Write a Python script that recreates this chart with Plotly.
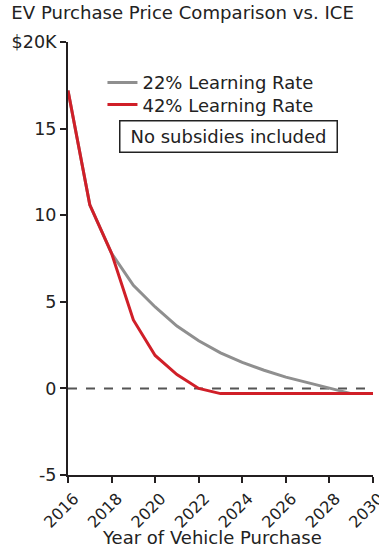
import plotly.graph_objects as go

# Model years of vehicle purchase
years = list(range(2016, 2031))

# EV price premium over ICE, thousands of USD
premium_22 = [17.2, 10.6, 7.8, 5.95, 4.7, 3.6, 2.75, 2.05, 1.5, 1.05, 0.65, 0.33, 0.05, -0.3, -0.3]
premium_42 = [17.2, 10.6, 7.8, 3.95, 1.9, 0.8, 0.0, -0.3, -0.3, -0.3, -0.3, -0.3, -0.3, -0.3, -0.3]

series_names = ["22% Learning Rate", "42% Learning Rate"]
series_colors = ["#8f8f8f", "#d01f28"]

y_tickvals = [-5, 0, 5, 10, 15, 20]
y_ticktext = ["-5", "0", "5", "10", "15", "$20K"]
x_tickvals = list(range(2016, 2031, 2))

FONT = "DejaVu Sans, Verdana, sans-serif"
TEXT = "#222222"
AXIS = "#231f20"

fig = go.Figure()
for i, (name, vals, color) in enumerate(zip(series_names, [premium_22, premium_42], series_colors)):
    fig.add_trace(go.Scatter(
        x=years, y=vals, name=name, mode="lines",
        line=dict(color=color, width=3),
        legend="legend" if i == 0 else "legend2",
        hoverinfo="x+y",
    ))

# break-even reference line
fig.add_shape(type="line", xref="paper", x0=0, x1=1, yref="y", y0=0, y1=0,
              line=dict(color="#555555", width=2, dash="dash"), layer="below")

fig.add_annotation(
    text="No subsidies included", xref="paper", yref="paper",
    x=0.525, y=0.781, xanchor="center", yanchor="middle", showarrow=False,
    font=dict(family=FONT, size=18, color=TEXT),
    bordercolor="#222222", borderwidth=1.5, borderpad=6, width=204, height=18,
    bgcolor="white",
)

# x-axis caption, centred under the labelled years
fig.add_annotation(
    text="Year of Vehicle Purchase", xref="paper", yref="paper",
    x=0.472, y=-0.145, xanchor="center", yanchor="middle", showarrow=False,
    font=dict(family=FONT, size=18, color=TEXT),
)

legend_style = dict(xanchor="left", yanchor="middle", bgcolor="rgba(0,0,0,0)",
                    font=dict(family=FONT, size=18, color=TEXT))

fig.update_layout(
    width=379, height=549,
    margin=dict(l=68, r=6, t=42, b=74, autoexpand=False),
    paper_bgcolor="white", plot_bgcolor="white",
    font=dict(family=FONT, size=17.5, color=TEXT),
    title=dict(text="EV Purchase Price Comparison vs. ICE", x=0.03, xanchor="left",
               y=0.988, yanchor="top", font=dict(family=FONT, size=18.1, color=TEXT)),
    showlegend=True,
    legend=dict(x=0.113, y=0.906, **legend_style),
    legend2=dict(x=0.113, y=0.855, **legend_style),
    xaxis=dict(range=[2016, 2030], tickvals=x_tickvals, tickangle=-45,
               ticklabeloverflow="allow", automargin=False,
               ticklabelshift=6, ticklabelstandoff=0,
               showgrid=False, zeroline=False, showline=True, linecolor=AXIS,
               linewidth=2, ticks="outside", ticklen=6, tickwidth=2, tickcolor=AXIS,
               tickfont=dict(family=FONT, size=16, color=TEXT)),
    yaxis=dict(range=[-5, 20], tickvals=y_tickvals, ticktext=y_ticktext,
               automargin=False,
               showgrid=False, zeroline=False, showline=True, linecolor=AXIS,
               linewidth=2, ticks="outside", ticklen=6, tickwidth=2, tickcolor=AXIS,
               tickfont=dict(family=FONT, size=17.5, color=TEXT)),
)

fig.write_html("out.html")
